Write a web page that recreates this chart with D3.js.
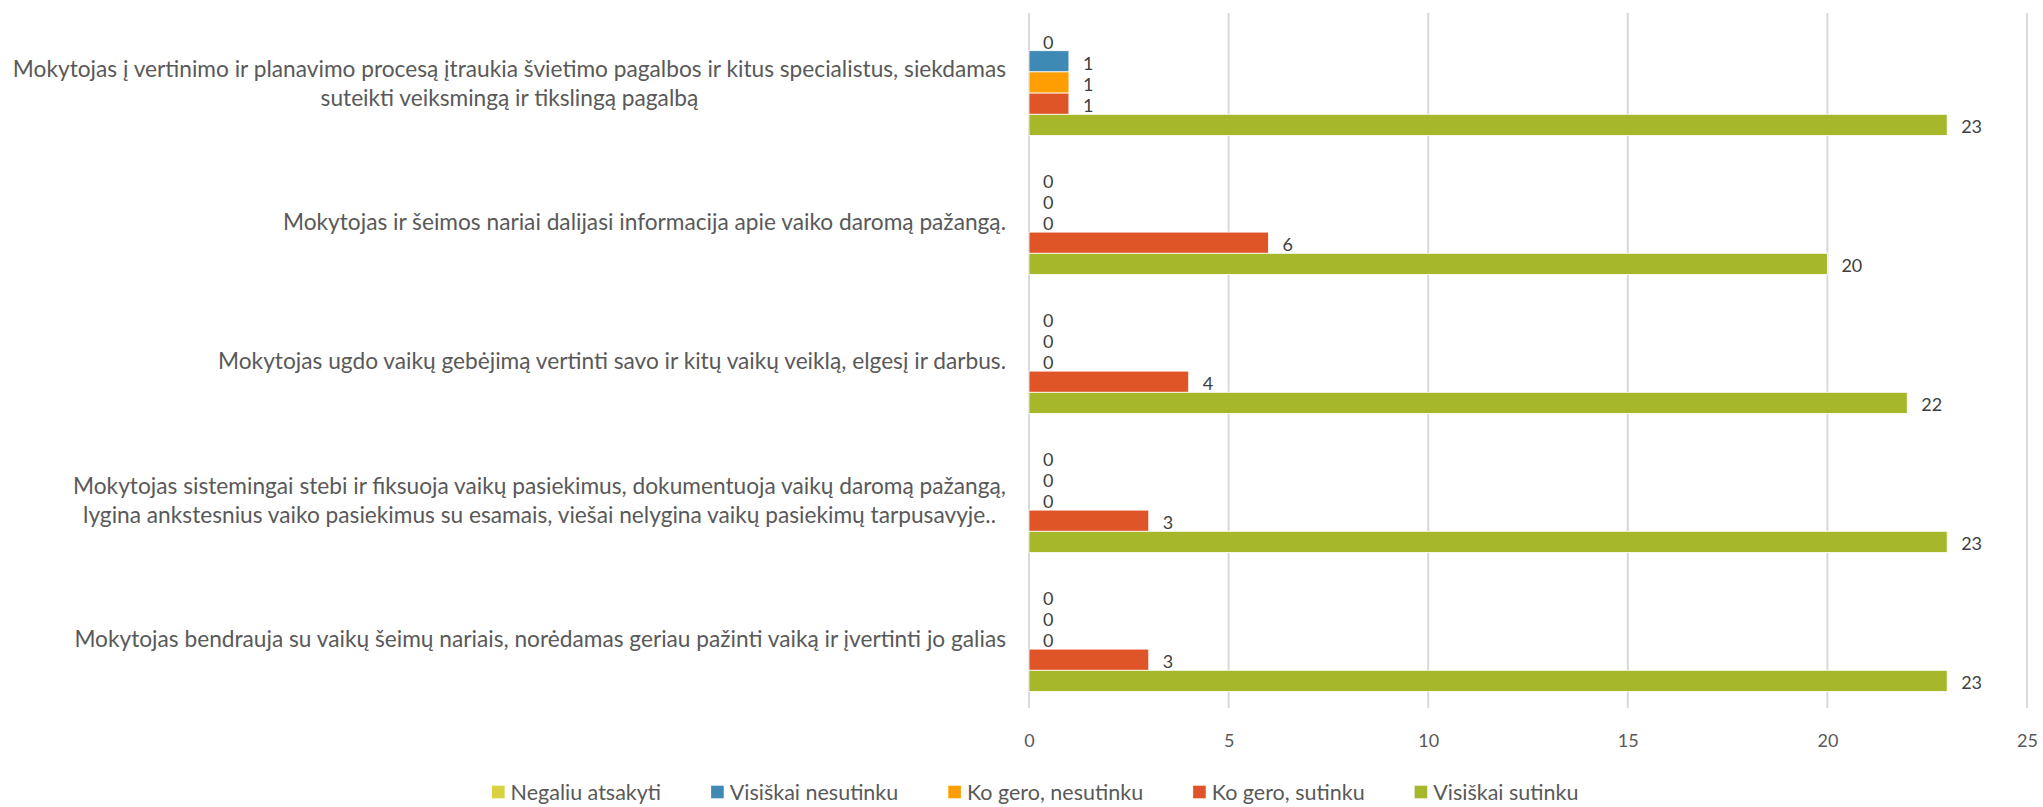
<!DOCTYPE html>
<html><head><meta charset="utf-8">
<script src="https://cdn.jsdelivr.net/npm/d3@7"></script>
<style>body{margin:0;background:#fff}svg{display:block}</style>
</head><body>
<svg id="chart" width="2043" height="807"></svg>
<script>
const categories = [
  ["Mokytojas į vertinimo ir planavimo procesą įtraukia švietimo pagalbos ir kitus specialistus, siekdamas", "suteikti veiksmingą ir tikslingą pagalbą"],
  ["Mokytojas ir šeimos nariai dalijasi informacija apie vaiko daromą pažangą."],
  ["Mokytojas ugdo vaikų gebėjimą vertinti savo ir kitų vaikų veiklą, elgesį ir darbus."],
  ["Mokytojas sistemingai stebi ir fiksuoja vaikų pasiekimus, dokumentuoja vaikų daromą pažangą,", "lygina ankstesnius vaiko pasiekimus su esamais, viešai nelygina vaikų pasiekimų tarpusavyje.."],
  ["Mokytojas bendrauja su vaikų šeimų nariais, norėdamas geriau pažinti vaiką ir įvertinti jo galias"]
];
const seriesNames = ["Negaliu atsakyti", "Visiškai nesutinku", "Ko gero, nesutinku", "Ko gero, sutinku", "Visiškai sutinku"];
const seriesColors = ["#D9D13F", "#3F8AB4", "#FF9E00", "#E05528", "#A6B82A"];
const negaliuAtsakyti   = [0, 0, 0, 0, 0];
const visiskaiNesutinku = [1, 0, 0, 0, 0];
const koGeroNesutinku   = [1, 0, 0, 0, 0];
const koGeroSutinku     = [1, 6, 4, 3, 3];
const visiskaiSutinku   = [23, 20, 22, 23, 23];
const seriesValues = [negaliuAtsakyti, visiskaiNesutinku, koGeroNesutinku, koGeroSutinku, visiskaiSutinku];
const xTicks = [0, 5, 10, 15, 20, 25];

const svg = d3.select("#chart");
const FONT = "Lato, 'Open Sans', sans-serif";
const catIdx = categories.map((c, i) => i);

const x = d3.scaleLinear().domain([0, 25]).range([1029, 2027]);
const y0 = d3.scaleBand().domain(catIdx).range([13, 708]).padding(0);
const y1 = d3.scaleBand().domain(seriesNames).range([16.5, y0.bandwidth() - 16.5]).padding(0);

// gridlines
svg.append("g").selectAll("line").data(xTicks).join("line")
  .attr("x1", d => x(d)).attr("x2", d => x(d))
  .attr("y1", 13).attr("y2", 708)
  .attr("stroke", "#D9D9D9").attr("stroke-width", 2);

// x tick labels
const xAxis = d3.axisBottom(x).tickValues(xTicks).tickSize(0).tickPadding(0);
const gx = svg.append("g").attr("transform", "translate(0,734)").call(xAxis);
gx.select(".domain").remove();
gx.selectAll("text").attr("font-family", FONT).attr("font-size", 18).attr("fill", "#595959");

// bars
const groups = svg.append("g").selectAll("g").data(catIdx).join("g")
  .attr("transform", i => `translate(0,${y0(i)})`);
seriesNames.forEach((s, si) => {
  groups.append("rect")
    .attr("x", x(0))
    .attr("y", y1(s))
    .attr("width", i => x(seriesValues[si][i]) - x(0))
    .attr("height", y1.bandwidth())
    .attr("fill", seriesColors[si])
    .attr("stroke", "#fff")
    .attr("stroke-width", 0.8)
    .style("display", i => seriesValues[si][i] > 0 ? null : "none");
  groups.append("text")
    .attr("x", i => x(seriesValues[si][i]) + 14)
    .attr("y", y1(s) + y1.bandwidth() / 2 + 4)
    .attr("dominant-baseline", "middle")
    .attr("font-family", FONT).attr("font-size", 18).attr("fill", "#404040")
    .text(i => seriesValues[si][i]);
});

// category labels
const labelRight = 1006, lineH = 29;
categories.forEach((lines, i) => {
  const cy = y0(i) + y0.bandwidth() / 2;
  const g = svg.append("g");
  const texts = lines.map((ln, li) => g.append("text")
    .attr("font-family", FONT).attr("font-size", 22.7).attr("fill", "#595959")
    .attr("text-anchor", "middle")
    .attr("y", cy + (li - (lines.length - 1) / 2) * lineH)
    .attr("dominant-baseline", "central")
    .text(ln));
  const maxW = d3.max(texts, t => t.node().getComputedTextLength());
  texts.forEach(t => t.attr("x", labelRight - maxW / 2));
});

// legend
const leg = svg.append("g").attr("transform", "translate(492,792)");
let lx = 0;
seriesNames.forEach((s, si) => {
  leg.append("rect").attr("x", lx).attr("y", -6.3).attr("width", 12.6).attr("height", 12.6).attr("fill", seriesColors[si]);
  const t = leg.append("text").attr("x", lx + 18.6).attr("y", 0).attr("dominant-baseline", "central")
    .attr("font-family", FONT).attr("font-size", 21.5).attr("fill", "#595959").text(s);
  lx += 18.6 + t.node().getComputedTextLength() + 50;
});
</script>
</body></html>
